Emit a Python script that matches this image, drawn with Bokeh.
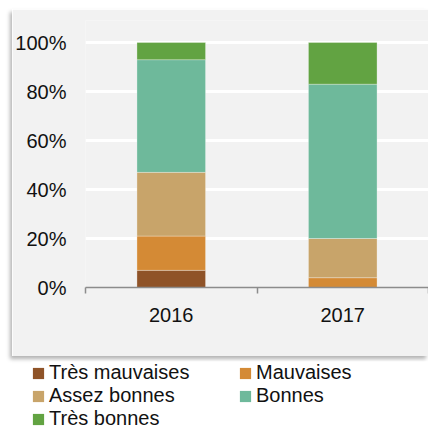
from bokeh.plotting import figure
from bokeh.models import (Range1d, FixedTicker, PrintfTickFormatter, ColumnDataSource,
                          Legend, LegendItem)
from bokeh.embed import file_html
from bokeh.resources import INLINE

# ---- data ----
years = ["2016", "2017"]
categories = ["Très mauvaises", "Mauvaises", "Assez bonnes", "Bonnes", "Très bonnes"]
tres_mauvaises = [7, 0]
mauvaises = [14, 4]
assez_bonnes = [26, 16]
bonnes = [46, 63]
tres_bonnes = [7, 17]
y_ticks = [0, 20, 40, 60, 80, 100]
colors = ["#8F5328", "#D48A35", "#C8A46A", "#6EB99B", "#62A342"]

FONT = "Liberation Sans"
keys = ["tm", "m", "ab", "b", "tb"]
x_pos = [i + 0.5 for i in range(len(years))]
src = ColumnDataSource(dict(x=x_pos, tm=tres_mauvaises, m=mauvaises, ab=assez_bonnes,
                            b=bonnes, tb=tres_bonnes))

# ---- main chart panel ----
p = figure(width=416, height=347, x_range=Range1d(0, len(years)), y_range=Range1d(0, 109),
           output_backend="svg", toolbar_location=None,
           min_border_left=72, min_border_right=0, min_border_top=11, min_border_bottom=69,
           background_fill_color="#f2f2f2", border_fill_color="#f2f2f2",
           outline_line_color=None, margin=(9, 0, 0, 12),
           styles={"box-shadow": "-2px 3px 4px rgba(0,0,0,0.3)"})

p.vbar_stack(keys, x="x", width=0.4, fill_color=colors, line_color="white",
             line_alpha=0.3, line_width=1, source=src)

# y axis
p.yaxis.ticker = FixedTicker(ticks=y_ticks)
p.yaxis.formatter = PrintfTickFormatter(format="%d%%")
p.yaxis.axis_line_color = None
p.yaxis.major_tick_line_color = None
p.yaxis.major_tick_out = 0
p.yaxis.major_tick_in = 0
p.yaxis.minor_tick_line_color = None
p.yaxis.major_label_standoff = 19
p.yaxis.major_label_text_font = FONT
p.yaxis.major_label_text_font_size = "20px"
p.yaxis.major_label_text_color = "#111111"

# x axis: labels at centers, ticks at category boundaries
p.xaxis.ticker = FixedTicker(ticks=x_pos, minor_ticks=list(range(len(years) + 1)))
p.xaxis.major_label_overrides = {x: y for x, y in zip(x_pos, years)}
p.xaxis.major_tick_out = 0
p.xaxis.major_tick_in = 0
p.xaxis.minor_tick_out = 6
p.xaxis.minor_tick_in = 0
p.xaxis.minor_tick_line_color = "#8c8c8c"
p.xaxis.minor_tick_line_width = 1.5
p.xaxis.axis_line_color = "#8c8c8c"
p.xaxis.axis_line_width = 1.5
p.xaxis.major_label_standoff = 14
p.xaxis.major_label_text_font = FONT
p.xaxis.major_label_text_font_size = "20px"
p.xaxis.major_label_text_color = "#111111"

p.xgrid.visible = False
p.ygrid.grid_line_color = "white"
p.ygrid.grid_line_width = 3

# ---- legend (separate root below the panel) ----
p2 = figure(width=397, height=72, x_axis_type=None, y_axis_type=None,
            output_backend="svg", toolbar_location=None, min_border=0,
            outline_line_color=None, margin=(5, 0, 0, 31))
proxies = [p2.vbar(x="x", top=k, width=0, source=src, fill_color=c, line_color=None)
           for k, c in zip(keys, colors)]
legend = Legend(items=[LegendItem(label=c, renderers=[r]) for c, r in zip(categories, proxies)],
                location="top_left", orientation="horizontal", ncols=2,
                margin=0, padding=0, spacing=0, border_line_color=None,
                background_fill_alpha=0, glyph_width=14, glyph_height=14,
                label_standoff=4, label_width=189, label_height=20,
                label_text_font=FONT, label_text_font_size="20px",
                label_text_color="#111111")
p2.add_layout(legend)

open("out.html", "w").write(file_html([p, p2], INLINE))
